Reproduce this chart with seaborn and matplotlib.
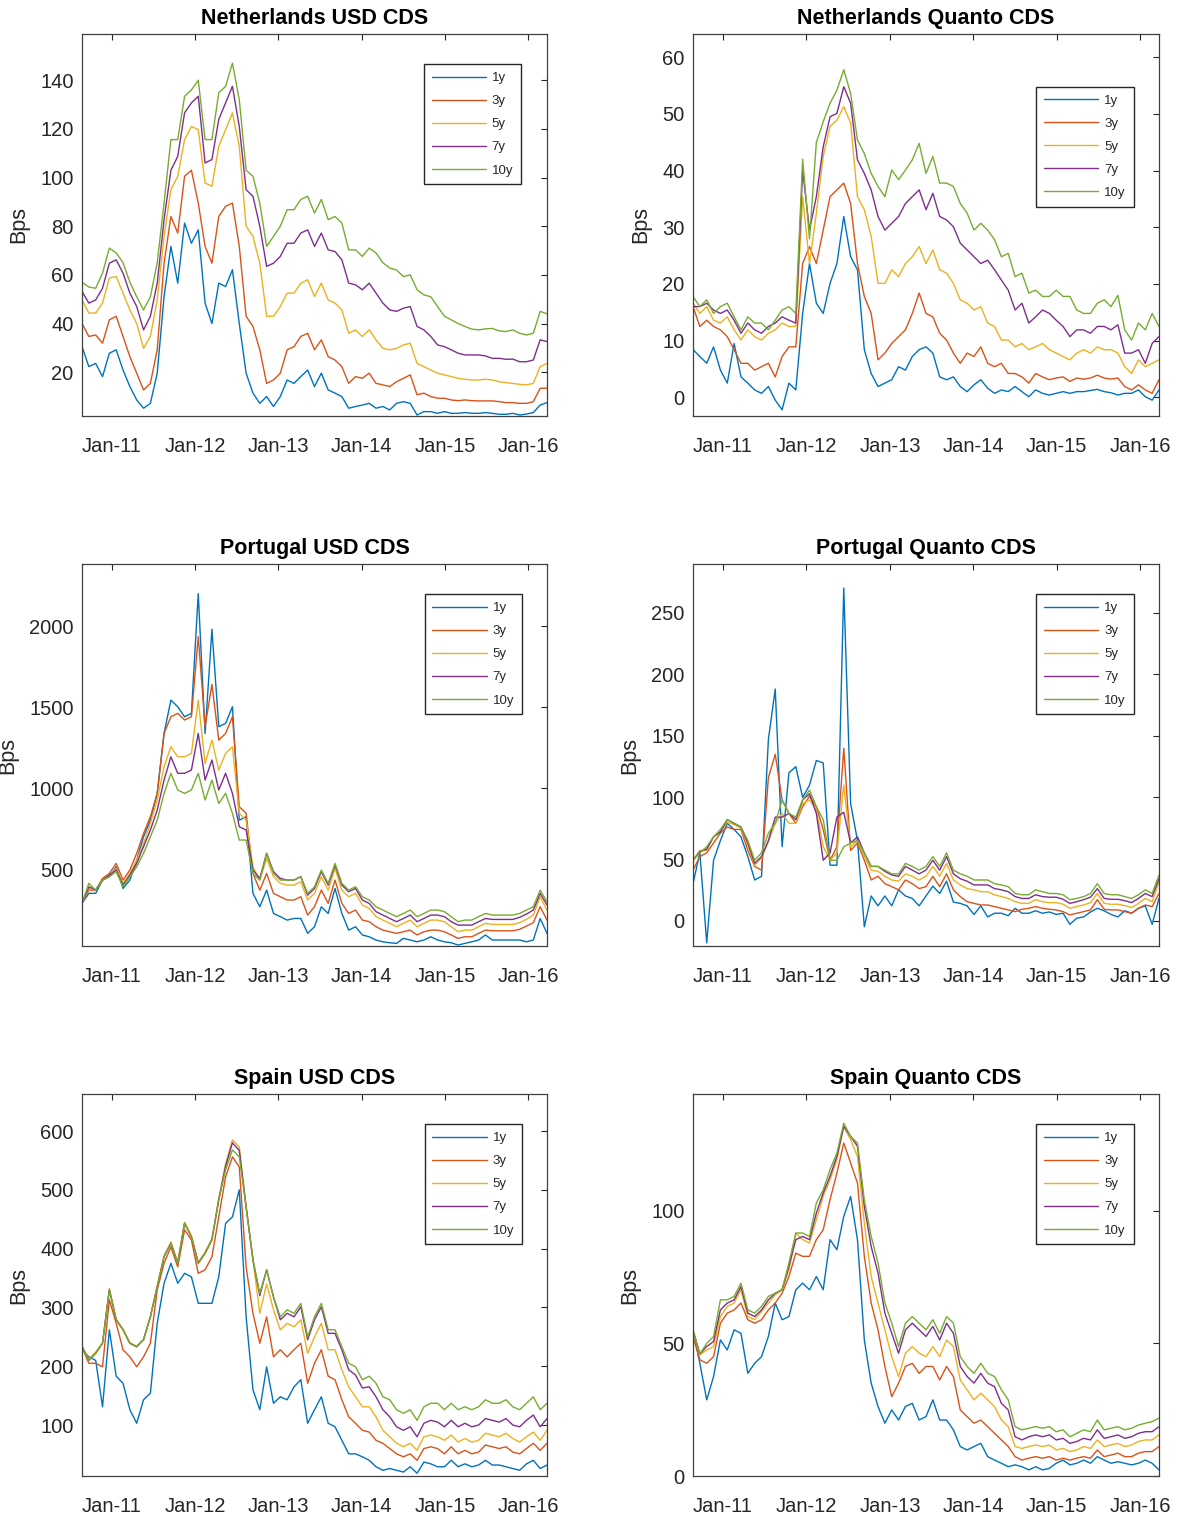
import numpy as np
import pandas as pd
import matplotlib
matplotlib.use("Agg")
import matplotlib.pyplot as plt
import matplotlib.dates as mdates
import seaborn as sns

# ---------------- data (approx. monthly samples) ----------------
dates = pd.date_range("2010-08-23", periods=69, freq="30D")
tenors = ["1y", "3y", "5y", "7y", "10y"]
colors = ["#0072BD", "#D95319", "#EDB120", "#7E2F8E", "#77AC30"]

# Netherlands USD CDS
nl_usd_1y = [30.5,22.3,23.6,18.2,27.8,29.2,20.9,14.1,8.6,5.2, 7.2,19.6,51.1,71.7,56.6,81.3,73,78.5,48.4,40,
             56.6,55.2,62.1,40,19.6,11.4,7.2,10,5.9,10, 16.8,15.4,18.2,20.9,14.1,19.6,12.7,11.4,10,5.2,
             5.9,6.5,7.2,5.2,5.9,4.5,7.2,7.9,7.2,2.4, 3.8,3.8,3.1,3.8,3.1,3.1,3.4,3.1,3.1,3.4, 3.1,2.7,2.7,3.1,2.4,2.8,3.4,6.5,7.5]
nl_usd_3y = [40,34.7,35.3,31.9,41.5,43,34.7,26.4,19.6,12.7, 15.4,29.2,64.8,84,77.2,100.5,103,89.5,71.7,64.8,
             84,88.2,89.5,71.7,43,38.8,29.2,15.4,16.8,19.6, 29.2,30.5,34.7,36,29.2,33.3,26.4,25,22.3,15.4,
             18.2,17.5,19.6,15.4,14.8,14.1,16.1,17.5,18.9,10.7, 11.4,10,9.3,9.3,8.6,8.3,8.6,8.3,8.2,8.2, 8.2,7.9,7.5,7.5,7.2,7.2,7.9,13.4,13.4]
nl_usd_5y = [49.7,44.3,44.3,48.4,58.7,59.3,52.5,45.6,40,29.8, 34.7,49.7,75.8,95,100.5,115.6,121,119.7,97.8,96.4,
             112.8,119.7,126.6,112.8,80,75.8,64.8,43,43,47, 52.5,52.5,56.6,58,51.1,56.6,49.7,48.4,45.6,36,
             37.4,34.7,37.4,33.3,29.8,29.2,29.8,31.2,31.9,23.6, 22.3,20.9,19.6,18.9,18.2,17.5,17.1,16.8,16.8,17.1, 16.8,16.1,15.7,15.4,15,14.8,15.4,22.3,23.6]
nl_usd_7y = [53.2,48.4,49.7,54.5,64.8,66.2,60.7,52.5,47,37.4, 43,56.6,82.7,103,108.7,126.6,130.7,133.4,106,107.4,
             123.9,130.7,137.5,121,95,92.3,80,63.5,64.8,67.6, 73,73,77.2,78.5,71.7,77.2,70.3,69.6,66.2,56.6,
             55.9,53.9,56.6,52.5,48.4,45.6,45,46.3,47,38.8, 37.4,34.7,31.2,30.5,29.2,27.8,27.1,27.1,27.1,26.7, 25.7,25.7,25.3,25.4,24.3,24.3,25,33.3,32.6]
nl_usd_10y = [57,55,54.5,60.7,71,69,65,57,51,45.6, 51,65,89.5,115.6,115.6,133.4,136,140,115.6,115.6,
              134.8,137.5,147,132,103,100.5,89.5,71.7,75.8,80, 86.8,86.8,91,92.3,85.4,91,82.7,84,81.3,70.3,
              70.3,67.6,71,69,65,62.8,62,59.3,60,53.9, 51.8,51,47,43,41.5,40,38.8,37.7,37.4,37.8, 38,37,36.7,37.4,36,35.3,36,45,44]

# Netherlands Quanto CDS
nl_q_1y = [8.4,7.2,6,8.9,4.8,2.5,9.5,3.6,2.5,1.3, 0.7,1.9,-0.5,-2.2,2.5,1.3,14.8,23.6,16.6,14.8,
           20.1,23.6,31.9,24.8,22.5,8.4,4.2,1.9,2.5,3.1, 5.4,4.8,7.2,8.4,8.9,7.8,3.6,3.1,3.6,1.9,
           1,2.2,3.1,1.6,0.7,1.3,1,1.9,1,0.1, 1.3,0.7,0.4,0.7,1,0.7,1,1,1.2,1.4, 1,0.8,0.4,0.7,0.7,1.3,0.1,-0.5,1.3]
nl_q_3y = [16,12.5,13.6,12.5,11.9,10.7,8.4,6,6,4.8, 5.4,6,3.6,7.2,8.9,8.9,23.6,26.6,23.6,29.5,
           35.4,36.6,37.8,34.2,23.6,17.8,14.8,6.6,7.8,9.5, 10.7,11.9,14.8,18.4,14.8,14.2,11.3,10.1,7.8,6,
           7.8,7.2,8.9,6,5.4,6,4.2,4.2,3.6,2.5, 4.2,3.6,3.1,3.4,3.6,2.8,3.4,3.2,3.4,3.9, 3.4,3.2,3.4,1.9,1.3,2.2,1.3,0.7,3.1]
nl_q_5y = [16.6,14.8,16,13.6,13.1,14.2,11.9,10.1,11.9,10.7, 10.1,11.3,11.9,13.1,12.5,12.5,35.4,23.6,32.5,42.5,
           47.8,48.9,51.3,48.4,35.4,33.1,28.4,20.1,20.1,22.5, 21.3,23.6,24.8,26.6,23.6,26,22.5,21.9,20.1,17.2,
           16.6,15.4,16,13.1,12.5,10.1,10.1,8.9,9.5,8.4, 8.9,9.5,8.4,7.8,7.2,6.6,7.8,8.4,7.8,8.9, 8.4,8.4,7.8,5.4,4.2,6.6,5.4,6,6.6]
nl_q_7y = [16,16,16.6,15.4,14.8,15.4,13.6,11.3,13.1,11.9, 11.3,12.5,13.1,14.2,13.6,13.1,40.1,29.5,35.4,44.2,
           49.5,50.1,54.8,51.9,41.9,39.5,36.6,31.9,29.5,30.7, 31.9,34.2,35.4,36.6,33.1,36,31.9,31.3,30.1,27.2,
           26,24.8,23.6,24.2,22.5,20.7,18.9,15.4,16.6,13.1, 14.2,15.4,14.8,13.6,12.5,10.7,11.9,11.9,11.3,12.5, 12.5,11.9,12.8,7.8,7.8,8.4,6,9.5,10.7]
nl_q_10y = [17.8,16,17.2,14.8,16,16.6,14.2,11.9,14.2,13.1, 13.1,11.9,13.6,15.4,16,14.8,42,28,45,48.6,
            51.9,54.2,57.8,53.6,45.4,43,39.5,37.2,35.4,40.1, 38.4,40.1,41.9,44.8,39.5,42.5,37.8,37.8,37.2,34.2,
            32.5,29.5,30.7,29.5,27.8,24.8,25.4,21.3,21.9,18.4, 18.9,17.8,17.8,18.9,17.8,17.8,15.4,14.8,14.8,16.6, 17.2,16,18,11.9,10.1,13.1,11.9,14.8,12.5]

# Portugal USD CDS
pt_usd_1y = [288,350,350,432,453,514,380,432,555,700, 802,967,1337,1543,1502,1440,1461,2200,1337,1980,
             1379,1399,1502,802,823,350,267,370,226,206, 185,195,195,103,144,267,226,380,226,123,
             144,93,82,62,51,45,41,72,62,51, 62,82,62,51,45,31,41,51,62,93, 62,62,62,62,62,51,62,195,103]
pt_usd_3y = [288,370,370,442,473,535,432,494,597,720, 823,967,1337,1440,1461,1420,1440,1934,1379,1640,
             1296,1337,1440,885,844,473,370,473,350,329, 309,309,329,216,267,370,288,432,288,226,
             247,185,175,144,123,113,103,113,123,93, 113,123,123,113,93,72,82,82,103,123, 119,119,119,119,128,148,169,267,185]
pt_usd_5y = [288,380,370,432,463,504,412,473,555,658, 782,926,1132,1255,1193,1193,1214,1543,1152,1296,
             1111,1214,1255,844,802,514,432,566,453,412, 401,401,422,309,350,453,370,504,370,329,
             350,278,257,206,185,165,144,165,185,144, 165,185,185,175,144,113,123,123,144,165, 158,158,158,158,169,189,216,329,247]
pt_usd_7y = [288,391,370,432,463,494,401,463,535,638, 741,864,1049,1193,1091,1091,1111,1337,1049,1173,
             988,1091,967,761,741,494,442,597,484,442, 432,432,453,339,380,484,401,525,401,360,
             380,309,288,237,216,195,175,195,216,175, 195,216,216,206,175,154,154,154,175,195, 189,189,189,189,202,222,247,350,278]
pt_usd_10y = [288,412,370,432,453,484,391,453,514,597, 700,802,967,1091,988,967,988,1091,926,1049,
              905,967,844,679,679,473,432,597,473,432, 432,432,453,350,391,494,412,535,412,370,
              391,329,309,267,247,226,206,226,247,206, 226,247,247,237,206,175,185,185,206,226, 216,216,216,216,226,247,267,370,298]

# Portugal Quanto CDS
pt_q_1y = [30,55,-18,49,65,79,74,68,52,33, 36,147,188,60,120,125,100,110,130,128,
           45,45,270,95,65,-5,20,12,20,12, 25,20,18,12,20,28,22,32,15,14,
           12,5,12,3,6,6,4,10,6,6, 8,6,7,5,6,-3,2,3,7,10, 8,5,3,8,6,10,12,-3,18]
pt_q_3y = [41,52,55,63,71,76,74,74,57,44, 41,116,135,98,87,79,92.5,101,92.5,74,
           49,60,140,57,63,49,33,36,30,27.6, 25,33,30,26,27.6,36,27.6,38,25,19.5,
           15.4,14,12.7,12.7,11.4,10,8.7,7.3,9.2,10, 11.4,10,9.2,8.7,7.3,4.6,6,7.3,8.7,17, 9.2,8.7,8.7,7.3,6,10,12.7,11.4,22]
pt_q_5y = [49,57,57,68,72,80,78,75,61,45, 51,64,79,87,79,79,95,98,90,60,
           49,55,110,60,65,52,41,40,36,33, 32,38,36,33,36,44,36,46.5,33,29,
           26,25,23.5,23.5,21,19.5,18,15.4,14,14, 17,15.4,14.6,14.6,13.3,10,11.4,12.7,14.6,22, 14,13.3,13.3,12.2,10.6,14,18,15.4,31.7]
pt_q_7y = [49,56,58,68,72,82,79,76,63,46.5, 52,65,84,84,87,82,98,103,87,49,
           55,84,88,63,68,55,44,44,40,37, 36,44,41,38,41,49,41,52,38,34,
           32,29,29,29,26,25,23.5,19.5,18,18, 21,19.5,19,19,17.3,14,15.4,17,19,26, 18,17.3,17.3,16.2,14.6,18,22,19.5,34]
pt_q_10y = [49,55,60,68,74,82,79,76,65,49, 55,71,79,98,87,84,98,106,92.5,82,
            49,49,60,63,65,55,44,44,41,38, 38,46.5,44,41,44,52,44,55,41,38,
            36,33,33,33,30,29,27.6,22,21,21, 25,23.5,22,22,21,17,18,19.5,22,30, 22,21,21,19.5,18,21,25,22,37]

# Spain USD CDS
es_usd_1y = [228,216,210,131,262,183,171,126,103,143, 154,273,341,375,341,358,352,307,307,307,
             352,443,454,500,284,160,126,199,137,148, 143,165,177,103,126,148,103,97,74,51,
             51,46,40,29,23,26,23,20,29,18, 37,34,29,29,40,29,34,29,32,40, 32,32,29,26,23,34,40,26,32]
es_usd_3y = [233,205,205,199,313,273,228,216,199,216, 239,330,375,403,369,432,415,358,364,386,
             454,522,556,539,369,290,239,284,216,228, 216,228,239,171,205,228,183,177,143,114,
             103,91,88,74,69,60,51,46,51,40, 60,63,60,51,63,51,57,51,54,66, 63,60,63,54,51,60,69,57,69]
es_usd_5y = [235,212,224,240,332,280,263,240,234,246, 285,337,388,411,377,445,422,377,394,417,
             485,545,585,573,471,381,290,340,296,262, 273,267,279,222,250,273,228,228,194,165,
             148,131,131,114,91,80,69,63,69,57, 80,83,80,74,83,71,77,71,74,86, 83,80,86,77,71,80,88,74,91]
es_usd_7y = [233,210,222,239,330,279,262,239,233,245, 284,335,386,409,375,443,420,375,392,415,
             483,540,580,567,471,381,320,364,318,279, 290,284,301,245,279,301,256,256,228,194,
             185,163,165,148,126,114,97,91,97,80, 103,108,105,97,108,97,103,97,100,111, 108,105,111,100,97,108,117,97,111]
es_usd_10y = [233,210,222,239,330,279,262,239,233,245, 284,335,386,409,375,443,420,375,392,415,
              483,534,568,556,471,381,324,364,318,284, 296,290,307,250,284,307,262,262,233,205,
              199,177,183,171,148,143,126,120,126,108, 131,137,137,126,137,126,131,126,131,143, 137,137,143,131,126,137,148,126,137]

# Spain Quanto CDS
es_q_1y = [55,42.5,28.7,37.5,51.3,47.5,55.1,53.8,38.7,42.5, 45,52.6,65.2,58.9,60.1,70.2,72.7,70.2,75.2,70.2,
           89.1,85.3,97.9,105.4,89.1,51.3,35,26.2,19.9,24.9, 21.1,26.2,27.4,21.1,22.4,28.7,21.1,21.1,17.4,11.1,
           9.8,11.1,12.3,7.3,6,4.8,3.5,4.2,3.5,2.3, 3.5,2.3,2.9,4.8,6,4.2,4.8,6,4.8,7.3, 6,4.8,5.4,4.8,4.2,4.8,6,4.8,2.3]
es_q_3y = [52.6,43.8,42.5,45,57.6,61.4,62.6,65.2,58.9,57.6, 58.9,62.6,65.2,68.9,75.2,84,82.8,82.8,89.1,92.8,
           104.2,114.2,125.5,118,110.4,82.8,65.2,55.1,41.3,29.9, 35,41.3,42.5,38.7,41.3,41.3,36.2,41.3,37.5,24.9,
           22.4,19.9,21.1,18.6,16.1,13.6,11.1,7.3,6,6.7, 7.3,6.7,7.3,6,6.7,6,6.7,7.3,6.7,9.8, 7.3,7.9,8.6,7.3,7.3,8.6,9.2,9.2,11.1]
es_q_5y = [54.5,45.7,47.5,48.8,60.1,63.9,65.2,70.2,60.1,58.9, 62,65.2,68.3,70.2,77.7,91.6,89.1,87.8,96.6,105.4,
           111.7,119.2,131.8,126.8,120.5,95.3,75.2,65.2,55.1,45, 37.5,46.3,48.8,46.3,45,48.8,45,51.3,48.8,36.2,
           32.5,28.7,31.2,28.7,26.2,21.1,18.6,11.1,10.4,11.1, 11.7,11.1,11.7,9.8,10.4,9.2,9.8,11.1,10.4,13.6, 11.1,11.7,12.3,11.1,11.7,13,13.6,13.6,15.5]
es_q_7y = [55,46,48.8,50.7,62.6,65.2,66.4,71.4,61.4,60.1, 62.6,66.4,68.9,70.2,79,89.1,90.3,89.1,99.1,106.7,
           113,120.5,131.8,128,124.3,101.6,86.5,76.5,61.4,53.8, 46.3,55.1,57.6,55.1,52.6,56.4,51.3,57.6,53.8,41.3,
           37.5,35,38.7,35,33.7,27.4,24.9,14.8,13.6,14.8, 15.5,14.8,15.5,13.6,14.2,12.3,13,14.2,13.6,17.4, 14.2,14.8,15.5,14.2,14.8,16.1,16.7,16.7,18.6]
es_q_10y = [55,46,50,52.6,66.4,66.4,67.7,72.7,62.6,61.4, 63.9,67.7,68.9,70.2,80.3,91.6,91.6,90.3,102.9,107.9,
            115.5,121.8,133,128,125.5,104,90.3,80.3,65.2,57.6, 48.8,57.6,60.1,57.6,55.1,58.9,53.8,60.1,57.6,45,
            41.3,38.7,42.5,38.7,37.5,32.5,28.7,18.6,17.4,18, 18.6,18,18.6,16.7,17.4,14.8,16.1,17.4,16.7,21.1, 17.4,18,18.6,17.4,18,19.2,19.9,20.5,21.8]

titles = ["Netherlands USD CDS", "Netherlands Quanto CDS", "Portugal USD CDS",
          "Portugal Quanto CDS", "Spain USD CDS", "Spain Quanto CDS"]
series = [
    [nl_usd_1y, nl_usd_3y, nl_usd_5y, nl_usd_7y, nl_usd_10y],
    [nl_q_1y, nl_q_3y, nl_q_5y, nl_q_7y, nl_q_10y],
    [pt_usd_1y, pt_usd_3y, pt_usd_5y, pt_usd_7y, pt_usd_10y],
    [pt_q_1y, pt_q_3y, pt_q_5y, pt_q_7y, pt_q_10y],
    [es_usd_1y, es_usd_3y, es_usd_5y, es_usd_7y, es_usd_10y],
    [es_q_1y, es_q_3y, es_q_5y, es_q_7y, es_q_10y],
]
ylims = [(2, 159), (-3.3, 64.1), (25, 2383), (-20.6, 289.5), (13.3, 663), (0, 144)]
yticks = [np.arange(20, 141, 20), np.arange(0, 61, 10), np.arange(500, 2001, 500),
          np.arange(0, 251, 50), np.arange(100, 601, 100), np.array([0, 50, 100])]

# ---------------- styling ----------------
sns.set_style("white")
plt.rcParams["font.family"] = ["Liberation Sans", "DejaVu Sans"]
plt.rcParams["axes.unicode_minus"] = False

W, H = 1179, 1519
fig = plt.figure(figsize=(W / 100, H / 100), dpi=100)

cols = [(82, 547), (693, 1159)]
rows = [(34, 416), (564, 946), (1094, 1476)]
leg_anchor = [(0.944, 0.921), (0.946, 0.862), (0.946, 0.921),
              (0.946, 0.921), (0.946, 0.921), (0.946, 0.921)]
axcol = "#262626"

for k in range(6):
    r, c = divmod(k, 2)
    x0, x1 = cols[c]
    y0, y1 = rows[r]
    ax = fig.add_axes([x0 / W, 1 - y1 / H, (x1 - x0) / W, (y1 - y0) / H])

    frames = []
    for t, vals in zip(tenors, series[k]):
        frames.append(pd.DataFrame({"date": dates[:len(vals)], "value": vals, "tenor": t}))
    df = pd.concat(frames, ignore_index=True)

    sns.lineplot(data=df, x="date", y="value", hue="tenor", hue_order=tenors,
                 palette=colors, estimator=None, sort=False, linewidth=1.0,
                 legend=False, ax=ax)

    ax.set_xlim(dates[0], dates[-1])
    ax.set_ylim(*ylims[k])
    ax.set_yticks(yticks[k])
    ax.xaxis.set_major_locator(mdates.YearLocator())
    ax.xaxis.set_major_formatter(mdates.DateFormatter("%b-%y"))
    ax.set_xlabel("")
    ax.set_ylabel("Bps", fontsize=15.5, color=axcol, labelpad=8)
    ax.set_title(titles[k], fontsize=15.5, fontweight="bold", color="black", pad=7)

    for sp in ax.spines.values():
        sp.set_color("#404040")
        sp.set_linewidth(0.9)
    ax.tick_params(axis="both", which="major", direction="in", length=4.5, width=0.8,
                   color=axcol, labelcolor=axcol, labelsize=14.5, top=True, right=True)
    ax.tick_params(axis="x", pad=15)
    ax.tick_params(axis="y", pad=6)

    leg = ax.legend(handles=ax.get_lines()[:5], labels=tenors, loc="upper right",
                    bbox_to_anchor=leg_anchor[k], borderaxespad=0, fontsize=9.5,
                    handlelength=4.1, handletextpad=0.45, borderpad=0.6,
                    labelspacing=0.82, frameon=True, fancybox=False, framealpha=1)
    leg.get_frame().set_edgecolor(axcol)
    leg.get_frame().set_linewidth(1.0)
    for txt in leg.get_texts():
        txt.set_color(axcol)

fig.savefig("out.png", dpi=100)
